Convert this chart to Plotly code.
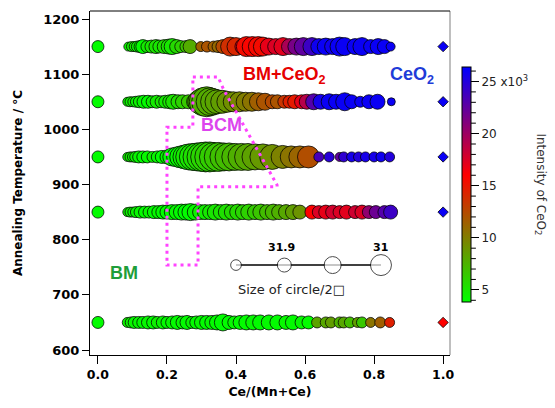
import plotly.graph_objects as go

# ---------------- data ----------------
temps = [1150, 1050, 950, 850, 650]

x_1150 = [0.088, 0.097, 0.105, 0.113, 0.122, 0.130, 0.142, 0.155, 0.168, 0.178, 0.192, 0.205, 0.215, 0.228,
          0.240, 0.255, 0.267, 0.298, 0.316, 0.335, 0.348, 0.362, 0.383, 0.400, 0.420, 0.430, 0.447, 0.465,
          0.478, 0.495, 0.515, 0.536, 0.555, 0.575, 0.595, 0.620, 0.640, 0.660, 0.680, 0.700, 0.715, 0.745,
          0.765, 0.790, 0.812, 0.830, 0.848]
s_1150 = [9, 10, 10, 11, 12, 14, 12, 13, 14, 13, 14, 15, 16, 14, 12, 12, 14, 10, 11, 11, 12, 14, 19, 18, 16,
          20, 20, 20, 19, 17, 16, 18, 16, 17, 18, 18, 16, 17, 16, 19, 18, 16, 18, 14, 16, 14, 9]
c_1150 = [4.5, 4.8, 5.0, 4.5, 4.3, 4.0, 4.8, 5.0, 5.2, 5.0, 5.4, 5.2, 5.0, 5.6, 6.0, 6.8, 7.8, 11.5, 12.0, 11.5,
          11.0, 12.5, 13.8, 14.2, 17.0, 15.5, 15.8, 15.6, 15.5, 17.0, 17.5, 17.2, 19.5, 21.5, 22.5, 24.0, 25.8,
          26.0, 25.8, 26.0, 26.0, 26.0, 26.0, 26.0, 26.0, 26.0, 26.0]

x_1050 = [0.085, 0.093, 0.101, 0.110, 0.120, 0.132, 0.145, 0.157, 0.170, 0.183, 0.195, 0.208, 0.218, 0.232,
          0.245, 0.262, 0.280, 0.295, 0.305, 0.315, 0.325, 0.335, 0.345, 0.360, 0.375, 0.392, 0.410, 0.428,
          0.446, 0.465, 0.484, 0.505, 0.520, 0.540, 0.555, 0.570, 0.590, 0.605, 0.625, 0.645, 0.670, 0.690,
          0.715, 0.735, 0.760, 0.785, 0.810, 0.850]
s_1050 = [9, 10, 10, 11, 12, 13, 13, 12, 13, 12, 13, 14, 15, 14, 14, 14, 16, 24, 28, 30, 28, 26, 24, 23, 21,
          20, 20, 19, 19, 18, 17, 14, 14, 13, 13, 14, 14, 15, 16, 15, 16, 15, 18, 14, 11, 14, 15, 8]
c_1050 = [4.5, 4.5, 4.8, 4.3, 4.5, 4.2, 4.0, 4.5, 4.8, 5.0, 4.8, 5.0, 5.2, 5.5, 6.0, 6.5, 7.0, 7.5, 7.4, 7.6,
          7.8, 8.0, 8.2, 8.5, 8.8, 9.2, 9.6, 10.0, 10.5, 11.5, 12.0, 12.5, 12.0, 13.5, 14.5, 14.8, 17.0, 19.0,
          23.0, 25.5, 26.0, 26.0, 26.0, 26.0, 26.0, 26.0, 26.0, 26.0]

x_950 = [0.085, 0.093, 0.100, 0.108, 0.118, 0.130, 0.143, 0.158, 0.172, 0.185, 0.200, 0.214, 0.228, 0.240,
         0.252, 0.263, 0.275, 0.287, 0.300, 0.312, 0.324, 0.336, 0.350, 0.365, 0.380, 0.398, 0.416, 0.435,
         0.455, 0.478, 0.505, 0.535, 0.560, 0.585, 0.610, 0.640, 0.670, 0.700, 0.712, 0.735, 0.755, 0.775,
         0.800, 0.820, 0.845]
s_950 = [9, 10, 10, 11, 12, 12, 12, 11, 12, 13, 14, 18, 20, 22, 24, 26, 27, 28, 29, 30, 30, 29, 29, 28, 28,
         27, 27, 27, 26, 26, 25, 23, 22, 22, 22, 10, 10, 9, 10, 10, 10, 10, 10, 10, 10]
c_950 = [4.5, 4.8, 4.5, 4.5, 4.3, 4.0, 4.2, 4.5, 4.3, 4.0, 4.2, 3.9, 4.0, 4.2, 4.5, 4.8, 5.0, 5.3, 5.5, 5.8,
         6.0, 6.2, 6.5, 6.8, 7.0, 7.3, 7.6, 7.9, 8.3, 8.7, 9.2, 9.8, 10.5, 11.2, 12.3, 23.5, 24.8, 22.5, 24.5,
         25.5, 25.0, 25.5, 25.5, 25.8, 25.0]

x_850 = [0.085, 0.093, 0.101, 0.110, 0.122, 0.135, 0.148, 0.162, 0.175, 0.188, 0.200, 0.214, 0.228, 0.242,
         0.255, 0.268, 0.282, 0.296, 0.310, 0.325, 0.340, 0.356, 0.372, 0.388, 0.405, 0.420, 0.437, 0.455,
         0.472, 0.490, 0.508, 0.525, 0.545, 0.565, 0.585, 0.620, 0.640, 0.660, 0.680, 0.700, 0.720, 0.745,
         0.765, 0.785, 0.805, 0.830, 0.848]
s_850 = [9, 10, 10, 11, 12, 12, 12, 13, 13, 14, 14, 15, 15, 16, 16, 17, 16, 15, 15, 15, 16, 15, 16, 15, 16,
         15, 16, 15, 16, 15, 16, 15, 15, 15, 14, 14, 13, 14, 14, 13, 14, 13, 14, 13, 13, 13, 14]
c_850 = [4.5, 4.5, 4.3, 4.3, 4.2, 4.0, 4.3, 4.0, 4.2, 4.0, 3.9, 4.0, 4.2, 4.0, 3.9, 4.0, 4.3, 4.5, 4.7, 4.9,
         5.0, 5.1, 5.3, 5.5, 5.6, 5.8, 6.0, 6.3, 6.6, 7.0, 7.3, 7.6, 8.0, 8.5, 9.0, 16.0, 17.5, 17.0, 17.8,
         17.5, 17.2, 18.0, 17.5, 20.5, 22.0, 23.0, 24.0]

x_650 = [0.085, 0.095, 0.105, 0.118, 0.130, 0.145, 0.160, 0.172, 0.188, 0.200, 0.215, 0.230, 0.245, 0.258,
         0.272, 0.285, 0.300, 0.315, 0.330, 0.345, 0.362, 0.380, 0.395, 0.412, 0.430, 0.450, 0.470, 0.495,
         0.520, 0.545, 0.565, 0.590, 0.610, 0.635, 0.660, 0.675, 0.700, 0.712, 0.730, 0.752, 0.765, 0.790,
         0.818, 0.845]
s_650 = [10, 11, 12, 12, 12, 13, 13, 12, 13, 12, 13, 14, 13, 14, 12, 13, 14, 14, 14, 15, 17, 14, 13, 14, 15,
         15, 15, 15, 15, 14, 15, 13, 13, 11, 11, 11, 11, 11, 11, 10, 11, 10, 11, 10]
c_650 = [4.5, 4.5, 4.3, 4.2, 4.0, 4.2, 4.0, 4.5, 4.3, 4.0, 4.2, 4.0, 4.2, 4.0, 4.3, 4.0, 4.2, 4.0, 4.2, 4.0,
         3.9, 4.0, 4.2, 4.0, 4.0, 4.2, 4.0, 4.1, 4.0, 4.2, 4.0, 4.2, 4.0, 8.2, 8.0, 8.5, 7.5, 8.0, 7.0, 8.5,
         6.5, 10.5, 11.5, 14.5]

# pure end members
mn_x = [0.0, 0.0, 0.0, 0.0, 0.0]
mn_c = [4.0, 4.0, 4.0, 4.0, 4.0]
ce_x = [1.0, 1.0, 1.0, 1.0, 1.0]
ce_c = [26.0, 26.0, 26.0, 26.0, 16.0]

# size key
key_sizes = [10.7, 14, 17, 21]
key_labels = ["", "31.9", "", "31"]

# BCM region outline
bcm_x = [0.275, 0.348, 0.365, 0.519, 0.519, 0.290, 0.290, 0.200, 0.200, 0.275, 0.275]
bcm_y = [1095, 1095, 1071, 899, 896, 896, 754, 754, 1004, 1004, 1095]

# colorbar ticks (x10^3)
cbar_major = [5, 10, 15, 20, 25]
cbar_major_text = ["5", "10", "15", "20", "25 x10<sup>3</sup>"]
cbar_minor = [v for v in range(4, 27) if v % 5 != 0]

# ---------------- figure ----------------
CMIN, CMAX = 3.85, 26.4
CB_X, CB_Y, CB_LEN, CB_THICK = 1.033, 0.496, 0.683, 9
PLOT_W = 360

fig = go.Figure()
line_style = dict(width=1, color="rgba(0,0,0,0.75)")

rows = [(x_1150, s_1150, c_1150), (x_1050, s_1050, c_1050), (x_950, s_950, c_950),
        (x_850, s_850, c_850), (x_650, s_650, c_650)]
for t, (xs, ss, cs) in zip(temps, rows):
    fig.add_trace(go.Scatter(x=xs, y=[t] * len(xs), mode="markers",
                             marker=dict(size=ss, color=cs, coloraxis="coloraxis", line=line_style,
                                         sizemode="diameter", opacity=1),
                             showlegend=False, hoverinfo="skip"))

fig.add_trace(go.Scatter(x=mn_x, y=temps, mode="markers",
                         marker=dict(size=12, color=mn_c, coloraxis="coloraxis", line=line_style),
                         showlegend=False))
fig.add_trace(go.Scatter(x=ce_x, y=temps, mode="markers",
                         marker=dict(size=8, symbol="diamond", color=ce_c, coloraxis="coloraxis",
                                     line=line_style),
                         showlegend=False))

# size key
key_x = [0.40, 0.54, 0.68, 0.82]
key_y = 754
fig.add_trace(go.Scatter(x=key_x, y=[key_y] * 4, mode="lines+markers",
                         line=dict(color="black", width=1.5),
                         marker=dict(size=key_sizes, color="white", line=dict(color="black", width=1)),
                         showlegend=False))
for kx, lab in zip(key_x, key_labels):
    if lab:
        fig.add_annotation(x=kx - (0.008 if lab == "31.9" else 0), y=786, text=lab,
                           showarrow=False,
                           font=dict(family="DejaVu Sans", size=11, color="black", weight="bold"))
fig.add_annotation(x=0.562, y=709, text="Size of circle/2\u25a1", showarrow=False,
                   font=dict(family="DejaVu Sans", size=13, color="#222"))

# BCM outline
fig.add_trace(go.Scatter(x=bcm_x, y=bcm_y, mode="lines",
                         line=dict(color="#ff44ff", width=3, dash="3px,4px"),
                         showlegend=False, hoverinfo="skip"))

# region labels
lab_font = dict(family="Liberation Sans", size=18, weight="bold")
fig.add_annotation(x=0.54, y=1098, text="BM+CeO<sub>2</sub>", showarrow=False,
                   font=dict(lab_font, color="#e60000"))
fig.add_annotation(x=0.91, y=1098, text="CeO<sub>2</sub>", showarrow=False,
                   font=dict(lab_font, color="#1e3cd8"))
fig.add_annotation(x=0.357, y=1008, text="BCM", showarrow=False,
                   font=dict(lab_font, color="#dd44ee"))
fig.add_annotation(x=0.075, y=740, text="BM", showarrow=False,
                   font=dict(lab_font, color="#1f9e3a"))

# axis title (y) and colorbar title
fig.add_annotation(xref="paper", yref="paper", x=-0.2, y=0.5, xanchor="center", yanchor="middle",
                   text="Annealing Temperature / \u00b0C",
                   textangle=-90, showarrow=False,
                   font=dict(family="DejaVu Sans", size=12, color="black", weight="bold"))
fig.add_annotation(xref="paper", yref="paper", x=1.25, y=CB_Y, xanchor="center", yanchor="middle",
                   text="Intensity of CeO<sub>2</sub>",
                   textangle=90, showarrow=False,
                   font=dict(family="DejaVu Sans", size=12, color="#333"))

# colorbar minor ticks
cb_right = CB_X + CB_THICK / PLOT_W
for v in cbar_minor:
    yy = CB_Y - CB_LEN / 2 + (v - CMIN) / (CMAX - CMIN) * CB_LEN
    fig.add_shape(type="line", xref="paper", yref="paper", x0=cb_right, x1=cb_right + 5 / PLOT_W,
                  y0=yy, y1=yy, line=dict(color="black", width=1))

# frame lines
fig.add_shape(type="line", xref="paper", yref="paper", x0=1, x1=1, y0=0, y1=1,
              line=dict(color="#aaaaaa", width=1.5))
fig.add_shape(type="line", xref="paper", yref="paper", x0=0, x1=1, y0=1, y1=1,
              line=dict(color="black", width=1))

fig.update_layout(
    width=555, height=408,
    margin=dict(l=90, r=105, t=11, b=53),
    paper_bgcolor="white", plot_bgcolor="white",
    showlegend=False,
    coloraxis=dict(
        cmin=CMIN, cmax=CMAX,
        colorscale=[[0, "rgb(0,255,0)"], [0.54, "rgb(255,0,0)"], [1, "rgb(0,0,255)"]],
        colorbar=dict(
            x=CB_X, xanchor="left", xpad=0, y=CB_Y, yanchor="middle", ypad=0,
            len=CB_LEN, lenmode="fraction", thickness=CB_THICK, thicknessmode="pixels",
            outlinewidth=1, outlinecolor="black",
            tickmode="array", tickvals=cbar_major, ticktext=cbar_major_text,
            ticks="outside", ticklen=8, tickwidth=1, tickcolor="black",
            tickfont=dict(family="DejaVu Sans", size=12, color="#222"),
        ),
    ),
    xaxis=dict(
        range=[-0.023, 1.020], showgrid=False, zeroline=False,
        showline=True, linecolor="black", linewidth=1, mirror=False,
        tickvals=[0.0, 0.2, 0.4, 0.6, 0.8, 1.0], ticktext=["0.0", "0.2", "0.4", "0.6", "0.8", "1.0"],
        ticks="outside", ticklen=8, tickcolor="black",
        tickfont=dict(family="DejaVu Sans", size=12.5, color="black", weight="bold"),
        title=dict(text="Ce/(Mn+Ce)", standoff=6,
                   font=dict(family="DejaVu Sans", size=12.5, color="black", weight="bold")),
    ),
    yaxis=dict(
        range=[591, 1214.5], showgrid=False, zeroline=False,
        showline=True, linecolor="black", linewidth=1, mirror=False,
        tickvals=[600, 700, 800, 900, 1000, 1100, 1200],
        ticks="outside", ticklen=7, tickcolor="black",
        tickfont=dict(family="DejaVu Sans", size=13, color="black", weight="bold"),
    ),
)

fig.write_html("out.html")
